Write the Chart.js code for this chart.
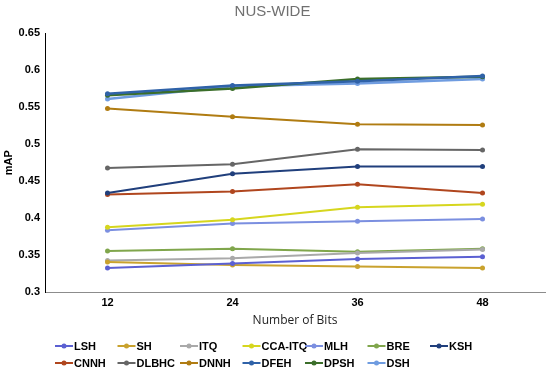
<!DOCTYPE html>
<html>
<head>
<meta charset="utf-8">
<title>NUS-WIDE</title>
<script src="https://cdn.jsdelivr.net/npm/chart.js@4"></script>
<style>
  html, body { margin: 0; padding: 0; background: #fff; }
  #wrap { width: 550px; height: 371px; }
</style>
</head>
<body>
<div id="wrap"><canvas id="grafico"></canvas></div>
<script>
// dados
const bits = ["12", "24", "36", "48"];
const yTicks = [0.3, 0.35, 0.4, 0.45, 0.5, 0.55, 0.6, 0.65];

const nomes = ["LSH", "SH", "ITQ", "CCA-ITQ", "MLH", "BRE", "KSH",
               "CNNH", "DLBHC", "DNNH", "DFEH", "DPSH", "DSH"];

const lsh    = [0.333, 0.339, 0.345, 0.348];
const sh     = [0.341, 0.337, 0.335, 0.333];
const itq    = [0.343, 0.346, 0.353, 0.358];
const ccaItq = [0.388, 0.398, 0.415, 0.419];
const mlh    = [0.384, 0.393, 0.396, 0.399];
const bre    = [0.356, 0.359, 0.355, 0.359];
const ksh    = [0.434, 0.460, 0.470, 0.470];
const cnnh   = [0.432, 0.436, 0.446, 0.434];
const dlbhc  = [0.468, 0.473, 0.493, 0.492];
const dnnh   = [0.548, 0.537, 0.527, 0.526];
const dfeh   = [0.568, 0.579, 0.585, 0.592];
const dpsh   = [0.566, 0.575, 0.588, 0.591];
const dsh    = [0.561, 0.578, 0.582, 0.588];

const series = [lsh, sh, itq, ccaItq, mlh, bre, ksh, cnnh, dlbhc, dnnh, dfeh, dpsh, dsh];
const cores = ["#5b60d2", "#c9a22e", "#a9a9a9", "#d6d61e", "#7b8fe0", "#80a64c", "#203f7c",
               "#b0461e", "#666666", "#b07c12", "#2f62a8", "#3b6e2a", "#6f9ce0"];

const datasets = nomes.map((nome, i) => ({
  label: nome,
  data: series[i],
  borderColor: cores[i],
  backgroundColor: cores[i],
  borderWidth: i >= 10 ? 2.5 : 2,
  pointRadius: 2.5,
  pointBorderWidth: 0,
  pointHoverRadius: 2.5,
  tension: 0
}));

// legenda em colunas fixas, como no original
const legendaGrade = {
  id: "legendaGrade",
  afterDraw(chart) {
    const ctx = chart.ctx;
    ctx.save();
    ctx.font = "bold 11px 'Liberation Sans', Arial, sans-serif";
    ctx.textBaseline = "middle";
    chart.data.datasets.forEach((ds, i) => {
      const col = i % 7;
      const row = Math.floor(i / 7);
      const x = 55 + col * 62.5;
      const y = 346 + row * 17;
      ctx.strokeStyle = ds.borderColor;
      ctx.fillStyle = ds.borderColor;
      ctx.lineWidth = 2;
      ctx.beginPath();
      ctx.moveTo(x, y);
      ctx.lineTo(x + 18, y);
      ctx.stroke();
      ctx.beginPath();
      ctx.arc(x + 9, y, 2.5, 0, Math.PI * 2);
      ctx.fill();
      ctx.fillStyle = "#000";
      ctx.fillText(ds.label, x + 19, y + 0.5);
    });
    ctx.restore();
  }
};

new Chart(document.getElementById("grafico"), {
  type: "line",
  data: { labels: bits, datasets: datasets },
  plugins: [legendaGrade],
  options: {
    responsive: true,
    maintainAspectRatio: false,
    animation: false,
    layout: { padding: { left: 0, right: 5, top: 0, bottom: 43 } },
    plugins: {
      legend: { display: false },
      tooltip: { enabled: false },
      title: {
        display: true,
        text: "NUS-WIDE",
        color: "#707070",
        font: { family: "'Liberation Sans', Arial, sans-serif", size: 15, weight: "normal" },
        padding: { top: 3, bottom: 12 }
      }
    },
    scales: {
      x: {
        offset: true,
        grid: { display: false, drawTicks: false },
        border: { display: true, color: "#8c8c8c", width: 1 },
        ticks: {
          color: "#000",
          padding: 4,
          font: { family: "'Liberation Sans', Arial, sans-serif", size: 11, weight: "bold" }
        },
        title: {
          display: true,
          text: "Number of Bits",
          color: "#222",
          padding: { top: 0, bottom: 0 },
          font: { family: "'Open Sans', 'Liberation Sans', sans-serif", size: 12 }
        }
      },
      y: {
        min: yTicks[0],
        max: yTicks[yTicks.length - 1],
        afterBuildTicks: (s) => { s.ticks = yTicks.map(v => ({ value: v })); },
        afterFit: (s) => { s.width = 45; },
        grid: { display: false, drawTicks: false },
        border: { display: true, color: "#000", width: 1 },
        ticks: {
          color: "#000",
          padding: 5,
          callback: (v) => String(+Number(v).toFixed(2)),
          font: { family: "'Liberation Sans', Arial, sans-serif", size: 11, weight: "bold" }
        },
        title: {
          display: true,
          text: "mAP",
          color: "#000",
          padding: { top: 2, bottom: 0 },
          font: { family: "'Liberation Sans', Arial, sans-serif", size: 11, weight: "bold" }
        }
      }
    }
  }
});
</script>
</body>
</html>
